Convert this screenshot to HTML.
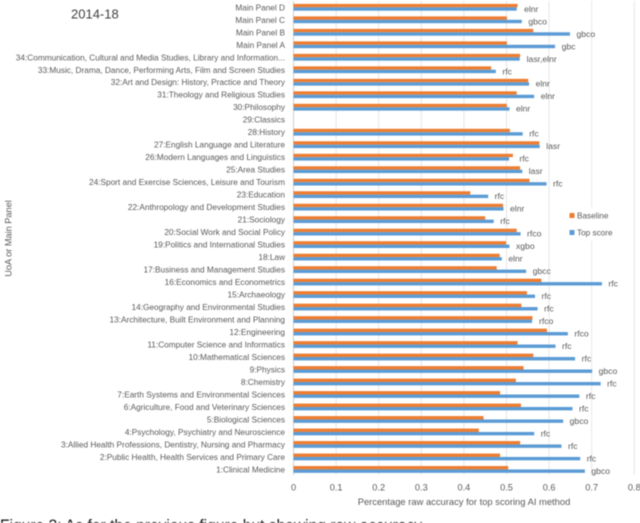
<!DOCTYPE html>
<html lang="en">
<head>
<meta charset="utf-8">
<title>2014-18 raw accuracy by UoA</title>
<style>
html,body{margin:0;padding:0;background:#fff;width:640px;height:523px;overflow:hidden}
svg{display:block;filter:blur(0.45px)}
text{font-family:"Liberation Sans",sans-serif;fill:#595959}
</style>
</head>
<body>
<svg id="chart" xmlns="http://www.w3.org/2000/svg" width="640" height="523" viewBox="0 0 640 523"></svg>
<script>
const categories = ["Main Panel D","Main Panel C","Main Panel B","Main Panel A","34:Communication, Cultural and Media Studies, Library and Information...","33:Music, Drama, Dance, Performing Arts, Film and Screen Studies","32:Art and Design: History, Practice and Theory","31:Theology and Religious Studies","30:Philosophy","29:Classics","28:History","27:English Language and Literature","26:Modern Languages and Linguistics","25:Area Studies","24:Sport and Exercise Sciences, Leisure and Tourism","23:Education","22:Anthropology and Development Studies","21:Sociology","20:Social Work and Social Policy","19:Politics and International Studies","18:Law","17:Business and Management Studies","16:Economics and Econometrics","15:Archaeology","14:Geography and Environmental Studies","13:Architecture, Built Environment and Planning","12:Engineering","11:Computer Science and Informatics","10:Mathematical Sciences","9:Physics","8:Chemistry","7:Earth Systems and Environmental Sciences","6:Agriculture, Food and Veterinary Sciences","5:Biological Sciences","4:Psychology, Psychiatry and Neuroscience","3:Allied Health Professions, Dentistry, Nursing and Pharmacy","2:Public Health, Health Services and Primary Care","1:Clinical Medicine"];
const baseline = [0.526,0.501,0.563,0.501,0.532,0.464,0.551,0.524,0.501,null,0.508,0.577,0.515,0.532,0.554,0.415,0.492,0.450,0.524,0.499,0.484,0.477,0.582,0.548,0.535,0.561,0.595,0.526,0.563,0.540,0.522,0.485,0.534,0.446,0.435,0.532,0.485,0.504];
const topScore = [0.524,0.536,0.649,0.614,0.531,0.475,0.553,0.565,0.507,null,0.538,0.578,0.506,0.537,0.594,0.457,0.493,0.470,0.533,0.507,0.489,0.546,0.724,0.567,0.573,0.560,0.644,0.615,0.661,0.701,0.721,0.671,0.655,0.633,0.565,0.629,0.673,0.684];
const methods = ["elnr","gbco","gbco","gbc","lasr,elnr","rfc","elnr","elnr","elnr","","rfc","lasr","rfc","lasr","rfc","rfc","elnr","rfc","rfco","xgbo","elnr","gbcc","rfc","rfc","rfc","rfco","rfco","rfc","rfc","gbco","rfc","rfc","rfc","gbco","rfc","rfc","rfc","gbco"];
const xTicks = [0,0.1,0.2,0.3,0.4,0.5,0.6,0.7,0.8];
const tickLabels = ["0","0.1","0.2","0.3","0.4","0.5","0.6","0.7","0.8"];

const svg = document.getElementById('chart');
const NS = 'http://www.w3.org/2000/svg';
function add(tag, attrs, content){
  const el = document.createElementNS(NS, tag);
  for (const k in attrs) el.setAttribute(k, attrs[k]);
  if (content !== undefined) el.textContent = content;
  svg.appendChild(el);
  return el;
}
const xScale = v => 293.5 + v * 426;
const yScale = i => 7.3 + i * 12.49;

xTicks.forEach((t, i) => {
  const g = add('line', {x1:xScale(t), x2:xScale(t), y1:1, y2:475, stroke: i === 0 ? '#d0d0d0' : '#e6e6e6', 'stroke-width':1});
  
  
  const l = add('text', {x:xScale(t), y:490.5, 'text-anchor':'middle', 'font-size':9.2}, tickLabels[i]);
  
  
});

categories.forEach((c, i) => {
  const y = yScale(i);
  const lab = add('text', {x:285, y:y + 3, 'text-anchor':'end', 'font-size':8.28}, c);
  
  
  if (baseline[i] === null) return;
  const b = add('rect', {x:xScale(0), y:y - 3.4, width:xScale(baseline[i]) - xScale(0), height:3.4, fill:'#ed7d31'});
  
  
  const t = add('rect', {x:xScale(0), y:y, width:xScale(topScore[i]) - xScale(0), height:3.4, fill:'#5b9bd5'});
  
  
  const m = add('text', {x:xScale(Math.max(baseline[i], topScore[i])) + 6.5, y:y + 4.5, 'font-size':8.6}, methods[i]);
  
  
});

const legendBg = add('rect', {x:564, y:207, width:66, height:34, fill:'#fff'});


const s1 = add('rect', {x:569.5, y:213, width:5, height:5, fill:'#ed7d31'});


const t1 = add('text', {x:577, y:218.5, 'font-size':8.2}, 'Baseline');


const s2 = add('rect', {x:569.5, y:230, width:5, height:5, fill:'#5b9bd5'});


const t2 = add('text', {x:577, y:235.5, 'font-size':8.2}, 'Top score');



const title = add('text', {x:71, y:18.5, 'font-size':13, style:'fill:#404040'}, '2014-18');


const xTitle = add('text', {x:464, y:505, 'text-anchor':'middle', 'font-size':9.4}, 'Percentage raw accuracy for top scoring AI method');


const yTitle = add('text', {x:0, y:0, 'text-anchor':'middle', 'font-size':9.2, transform:'translate(11.5,238.5) rotate(-90)'}, 'UoA or Main Panel');


const caption = add('text', {x:0, y:530.7, 'font-size':15.6, style:'fill:#111'}, 'Figure 2: As for the previous figure but showing raw accuracy');


</script>
</body>
</html>
